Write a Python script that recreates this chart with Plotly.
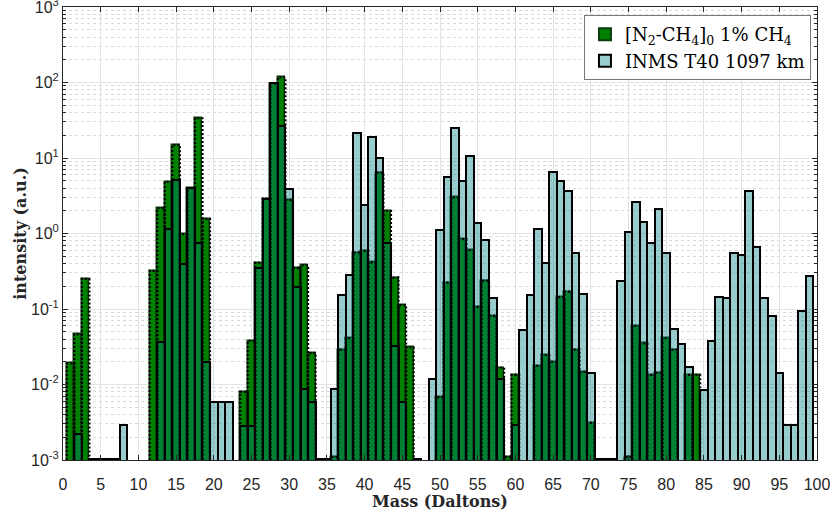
import plotly.graph_objects as go

# ---------------- data ----------------
mass = list(range(1, 100))

# [N2-CH4]0 1% CH4 (green)  -- None = no bar
green_vals = {
    1: 0.019, 2: 0.046, 3: 0.25,
    12: 0.32, 13: 2.16, 14: 4.85, 15: 14.9, 16: 0.98, 17: 4.0, 18: 33.6, 19: 1.56,
    24: 0.008, 25: 0.038, 26: 0.41, 27: 2.9, 28: 97.0, 29: 117.0, 30: 2.78,
    31: 0.35, 32: 0.38, 33: 0.026,
    36: 0.0011, 37: 0.029, 38: 0.041, 39: 0.56, 40: 0.59, 41: 0.415, 42: 6.4,
    43: 2.0, 44: 0.26, 45: 0.113, 46: 0.031,
    50: 0.0068, 51: 0.223, 52: 3.0, 53: 0.84, 54: 0.6, 55: 0.107, 56: 0.237,
    57: 0.081, 58: 0.0167, 59: 0.0011, 60: 0.0134,
    63: 0.0176, 64: 0.0246, 65: 0.020, 66: 0.143, 67: 0.17, 68: 0.029,
    69: 0.0147, 70: 0.0031,
    75: 0.0011, 76: 0.0596, 77: 0.035, 78: 0.0134, 79: 0.0143, 80: 0.041,
    81: 0.029, 83: 0.0134, 84: 0.0134,
}

# INMS T40 1097 km (light blue)
inms_vals = {
    2: 0.0022, 4: 0.00102, 5: 0.00102, 6: 0.00102, 7: 0.00102, 8: 0.0029,
    13: 0.037, 14: 1.16, 15: 5.1, 16: 0.40, 17: 4.05, 18: 0.74, 19: 0.020,
    20: 0.0058, 21: 0.0058, 22: 0.0058,
    24: 0.0028, 25: 0.0028, 26: 0.35, 27: 2.9, 28: 97.5, 29: 26.5, 30: 3.9,
    31: 0.197, 32: 0.0086, 33: 0.0058, 34: 0.00102, 35: 0.00102,
    36: 0.0086, 37: 0.153, 38: 0.28, 39: 21.2, 40: 2.38, 41: 18.8, 42: 9.9,
    43: 0.76, 44: 0.032, 45: 0.0058, 47: 0.00102,
    49: 0.0117, 50: 1.11, 51: 5.65, 52: 24.7, 53: 4.96, 54: 10.7, 55: 1.36,
    56: 0.82, 57: 0.139, 58: 0.0117,
    60: 0.0029, 61: 0.053, 62: 0.153, 63: 1.14, 64: 0.41, 65: 6.6, 66: 5.0,
    67: 3.69, 68: 0.56, 69: 0.157, 70: 0.0143,
    71: 0.00102, 72: 0.00102, 73: 0.00102,
    74: 0.237, 75: 1.06, 76: 2.59, 77: 1.43, 78: 0.74, 79: 2.11, 80: 0.547,
    81: 0.054, 82: 0.034, 83: 0.0172,
    85: 0.0085, 86: 0.0377, 87: 0.143, 88: 0.139, 89: 0.56, 90: 0.52,
    91: 3.66, 92: 0.66, 93: 0.139, 94: 0.081, 95: 0.0143, 96: 0.0029,
    97: 0.0029, 98: 0.094, 99: 0.274,
}

green = [green_vals.get(m) for m in mass]
inms = [inms_vals.get(m) for m in mass]

x_ticks = list(range(0, 101, 5))
y_tick_vals = [1e-3, 1e-2, 1e-1, 1e0, 1e1, 1e2, 1e3]
y_tick_text = ["10<sup>-3</sup>", "10<sup>-2</sup>", "10<sup>-1</sup>", "10<sup>0</sup>",
               "10<sup>1</sup>", "10<sup>2</sup>", "10<sup>3</sup>"]

green_name = "[N<sub>2</sub>-CH<sub>4</sub>]<sub>0</sub> 1% CH<sub>4</sub>"
inms_name = "INMS T40 1097 km"

FLOOR = 1e-3
BAR_W = 1.0

# dotted outline of green bars (derived from data)
ox, oy = [], []
for m, v in zip(mass, green):
    if v is None:
        continue
    h = BAR_W / 2
    ox += [m - h, m - h, m + h, m + h, None]
    oy += [FLOOR, v, v, FLOOR, None]

fig = go.Figure()
fig.add_trace(go.Bar(
    x=mass, y=green, width=BAR_W, name=green_name,
    marker=dict(color="#008000", line=dict(color="#0a3d0a", width=1.5)),
))
fig.add_trace(go.Bar(
    x=mass, y=inms, width=BAR_W, name=inms_name,
    marker=dict(color="rgba(0,128,128,0.4)", line=dict(color="black", width=2)),
))
fig.add_trace(go.Scatter(
    x=ox, y=oy, mode="lines", showlegend=False, hoverinfo="skip",
    line=dict(color="black", width=2.2, dash="2px,2px"),
))

tickfont = dict(family="Liberation Sans, Arial, sans-serif", size=16, color="#262626")
titlefont = dict(family="DejaVu Serif, Liberation Serif, serif", size=16, color="#262626")

fig.update_layout(
    width=830, height=511,
    margin=dict(l=63, r=13, t=7, b=51, autoexpand=False),
    paper_bgcolor="white", plot_bgcolor="white",
    barmode="overlay", bargap=0,
    legend=dict(
        x=0.992, y=0.982, xanchor="right", yanchor="top",
        bgcolor="white", bordercolor="#777", borderwidth=1,
        font=dict(family="DejaVu Serif, Liberation Serif, serif", size=18, color="black"),
        tracegroupgap=0, itemsizing="constant",
    ),
    xaxis=dict(
        range=[0, 100], tickvals=x_ticks, ticks="inside", ticklen=5,
        tickcolor="#262626", showline=True, linecolor="#262626", linewidth=1,
        mirror="ticks", showgrid=True, gridcolor="#e3e3e3", gridwidth=1,
        tickfont=tickfont, zeroline=False, automargin=False,
        ticklabelstandoff=10, ticklabeloverflow="allow",
        title=dict(text="<b>Mass (Daltons)</b>", font=titlefont, standoff=0),
    ),
    yaxis=dict(
        type="log", range=[-3, 3], tickvals=y_tick_vals, ticktext=y_tick_text,
        ticks="inside", ticklen=5, tickcolor="#262626",
        showline=True, linecolor="#262626", linewidth=1, mirror="ticks",
        showgrid=True, gridcolor="#e3e3e3", gridwidth=1,
        minor=dict(ticks="inside", ticklen=3, tickcolor="#262626", dtick="D1",
                   showgrid=True, gridcolor="#d9d9d9", griddash="dot", gridwidth=1),
        tickfont=tickfont, zeroline=False, automargin=False,
        ticklabeloverflow="allow",
        title=dict(text="<b>intensity (a.u.)</b>", font=titlefont, standoff=0),
    ),
)

fig.write_html(
    "out.html",
    config={"displayModeBar": False},
    post_script="document.body.style.margin='0';document.body.style.overflow='hidden';",
)
